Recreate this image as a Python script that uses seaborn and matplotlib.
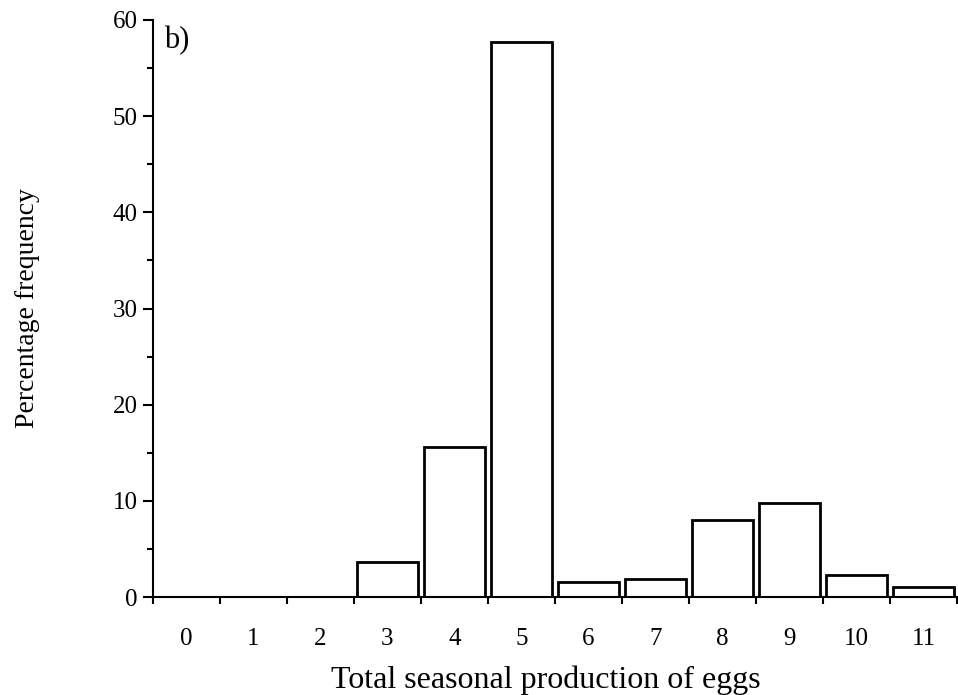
import matplotlib
matplotlib.use("Agg")
import matplotlib.pyplot as plt
import seaborn as sns
import pandas as pd
from matplotlib.ticker import MultipleLocator, FixedLocator

eggs = ["0", "1", "2", "3", "4", "5", "6", "7", "8", "9", "10", "11"]
percent = [0, 0, 0, 3.6, 15.6, 57.7, 1.6, 1.85, 8.0, 9.75, 2.25, 1.05]

df = pd.DataFrame({"eggs": eggs, "percent": percent})

sns.set_theme(style="ticks")
plt.rcParams["font.family"] = ["Liberation Serif", "DejaVu Serif"]
plt.rcParams["text.color"] = "black"
plt.rcParams["axes.labelcolor"] = "black"

fig = plt.figure(figsize=(9.58, 6.95), dpi=100)
ax = fig.add_axes([153 / 958, (695 - 597) / 695, (957 - 153) / 958, (597 - 20) / 695])

sns.barplot(data=df, x="eggs", y="percent", order=eggs, color="white",
            edgecolor="black", linewidth=2, width=0.9, ax=ax, saturation=1)

ax.set_xlim(-0.5, 11.5)
ax.set_ylim(0, 60)
ax.set_facecolor("white")
for s in ["top", "right"]:
    ax.spines[s].set_visible(False)
for s in ["left", "bottom"]:
    ax.spines[s].set_linewidth(1.5)
    ax.spines[s].set_color("black")

ax.xaxis.set_minor_locator(FixedLocator([i - 0.5 for i in range(13)]))
ax.tick_params(axis="x", which="major", length=0, labelsize=18, pad=22, colors="black")
ax.tick_params(axis="x", which="minor", length=5, width=1.5, direction="out", colors="black")
ax.yaxis.set_major_locator(MultipleLocator(10))
ax.yaxis.set_minor_locator(MultipleLocator(5))
ax.tick_params(axis="y", which="major", length=7, width=1.5, labelsize=18, colors="black", pad=4)
ax.tick_params(axis="y", which="minor", length=4, width=1.5, colors="black")

ax.set_xlabel("Total seasonal production of eggs", fontsize=23, labelpad=12, color="black")
ax.xaxis.set_label_coords(0.488, -0.118)
ax.set_ylabel("Percentage frequency", fontsize=20, labelpad=52, color="black")
ax.text(0.014, 0.99, "b)", transform=ax.transAxes, fontsize=22, va="top", ha="left", color="black")

fig.savefig("out.png", dpi=100, facecolor="white")
